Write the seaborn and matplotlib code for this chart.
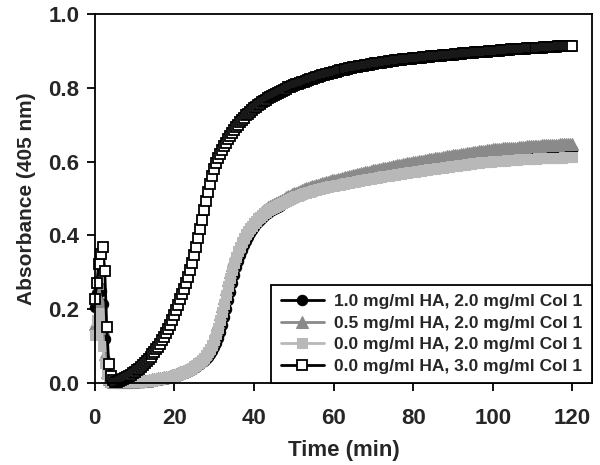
import numpy as np
import matplotlib
matplotlib.use("Agg")
import matplotlib.pyplot as plt
import seaborn as sns

# plate reader: one reading every 30 s from 0 to 120 min
time_min = np.arange(0, 120.5, 0.5)

# 1.0 mg/ml HA, 2.0 mg/ml Col 1
abs_ha10_col20 = [
    0.205, 0.245, 0.260, 0.250, 0.215, 0.120, 0.045, 0.015, 0.006, 0.003,
    0.002, 0.002, 0.002, 0.002, 0.002, 0.002, 0.002, 0.002, 0.003, 0.003,
    0.003, 0.003, 0.004, 0.004, 0.004, 0.005, 0.005, 0.006, 0.006, 0.007,
    0.008, 0.009, 0.010, 0.011, 0.012, 0.013, 0.014, 0.015, 0.016, 0.017,
    0.018, 0.020, 0.022, 0.024, 0.026, 0.028, 0.030, 0.033, 0.035, 0.038,
    0.040, 0.043, 0.048, 0.052, 0.056, 0.060, 0.065, 0.072, 0.079, 0.088,
    0.097, 0.109, 0.123, 0.139, 0.158, 0.179, 0.201, 0.225, 0.248, 0.271,
    0.293, 0.314, 0.332, 0.348, 0.362, 0.375, 0.386, 0.397, 0.407, 0.415,
    0.423, 0.430, 0.437, 0.442, 0.448, 0.453, 0.458, 0.462, 0.466, 0.469,
    0.472, 0.475, 0.478, 0.481, 0.484, 0.487, 0.490, 0.493, 0.496, 0.499,
    0.504, 0.506, 0.508, 0.510, 0.513, 0.515, 0.517, 0.518, 0.521, 0.523,
    0.524, 0.526, 0.527, 0.530, 0.531, 0.532, 0.535, 0.536, 0.537, 0.538,
    0.539, 0.540, 0.542, 0.543, 0.544, 0.546, 0.547, 0.548, 0.550, 0.551,
    0.552, 0.553, 0.554, 0.556, 0.557, 0.559, 0.560, 0.561, 0.563, 0.564,
    0.565, 0.566, 0.567, 0.568, 0.569, 0.571, 0.572, 0.573, 0.573, 0.574,
    0.576, 0.577, 0.578, 0.579, 0.579, 0.581, 0.582, 0.583, 0.584, 0.584,
    0.585, 0.586, 0.587, 0.588, 0.589, 0.590, 0.591, 0.592, 0.593, 0.593,
    0.595, 0.596, 0.597, 0.597, 0.598, 0.599, 0.600, 0.601, 0.602, 0.603,
    0.604, 0.605, 0.605, 0.606, 0.607, 0.609, 0.609, 0.610, 0.611, 0.611,
    0.612, 0.613, 0.614, 0.614, 0.615, 0.616, 0.617, 0.617, 0.618, 0.618,
    0.619, 0.619, 0.620, 0.620, 0.621, 0.621, 0.621, 0.622, 0.622, 0.622,
    0.623, 0.623, 0.624, 0.625, 0.625, 0.625, 0.626, 0.626, 0.626, 0.626,
    0.627, 0.627, 0.627, 0.628, 0.628, 0.628, 0.628, 0.629, 0.629, 0.629,
    0.630, 0.631, 0.631, 0.631, 0.631, 0.631, 0.632, 0.632, 0.632, 0.632,
    0.632,
]

# 0.5 mg/ml HA, 2.0 mg/ml Col 1
abs_ha05_col20 = [
    0.160, 0.230, 0.270, 0.220, 0.150, 0.080, 0.030, 0.012, 0.005, 0.003,
    0.002, 0.002, 0.002, 0.003, 0.003, 0.003, 0.003, 0.004, 0.004, 0.004,
    0.005, 0.005, 0.005, 0.006, 0.006, 0.007, 0.007, 0.008, 0.009, 0.010,
    0.011, 0.012, 0.013, 0.014, 0.015, 0.016, 0.017, 0.018, 0.020, 0.021,
    0.023, 0.025, 0.027, 0.029, 0.031, 0.034, 0.036, 0.039, 0.042, 0.046,
    0.050, 0.054, 0.058, 0.063, 0.068, 0.075, 0.083, 0.092, 0.103, 0.115,
    0.129, 0.146, 0.165, 0.186, 0.209, 0.232, 0.256, 0.279, 0.300, 0.320,
    0.338, 0.354, 0.368, 0.381, 0.392, 0.403, 0.412, 0.421, 0.429, 0.436,
    0.442, 0.448, 0.454, 0.459, 0.464, 0.468, 0.472, 0.476, 0.479, 0.482,
    0.485, 0.488, 0.491, 0.494, 0.497, 0.500, 0.503, 0.506, 0.508, 0.511,
    0.514, 0.516, 0.518, 0.521, 0.523, 0.525, 0.528, 0.529, 0.531, 0.533,
    0.535, 0.537, 0.538, 0.540, 0.542, 0.543, 0.545, 0.546, 0.548, 0.549,
    0.550, 0.551, 0.553, 0.554, 0.556, 0.557, 0.558, 0.559, 0.561, 0.562,
    0.563, 0.564, 0.566, 0.567, 0.569, 0.570, 0.571, 0.572, 0.573, 0.575,
    0.576, 0.577, 0.578, 0.579, 0.581, 0.582, 0.583, 0.584, 0.585, 0.586,
    0.588, 0.589, 0.590, 0.591, 0.592, 0.593, 0.594, 0.595, 0.596, 0.597,
    0.598, 0.599, 0.600, 0.601, 0.602, 0.603, 0.604, 0.605, 0.606, 0.606,
    0.608, 0.609, 0.610, 0.610, 0.611, 0.612, 0.613, 0.614, 0.615, 0.616,
    0.617, 0.618, 0.618, 0.619, 0.620, 0.621, 0.622, 0.623, 0.624, 0.624,
    0.625, 0.626, 0.627, 0.628, 0.629, 0.629, 0.630, 0.631, 0.632, 0.632,
    0.633, 0.633, 0.634, 0.634, 0.635, 0.636, 0.636, 0.637, 0.637, 0.637,
    0.638, 0.638, 0.638, 0.639, 0.639, 0.640, 0.640, 0.641, 0.641, 0.641,
    0.642, 0.642, 0.642, 0.643, 0.643, 0.644, 0.644, 0.645, 0.645, 0.645,
    0.645, 0.646, 0.646, 0.646, 0.647, 0.647, 0.647, 0.648, 0.648, 0.648,
    0.648,
]

# 0.0 mg/ml HA, 2.0 mg/ml Col 1
abs_ha00_col20 = [
    0.130, 0.170, 0.190, 0.160, 0.100, 0.055, 0.025, 0.010, 0.004, 0.003,
    0.002, 0.002, 0.002, 0.002, 0.002, 0.002, 0.002, 0.003, 0.003, 0.003,
    0.003, 0.004, 0.004, 0.004, 0.005, 0.005, 0.006, 0.006, 0.007, 0.008,
    0.009, 0.010, 0.011, 0.012, 0.013, 0.014, 0.015, 0.016, 0.017, 0.018,
    0.020, 0.022, 0.024, 0.026, 0.028, 0.031, 0.033, 0.036, 0.039, 0.042,
    0.046, 0.050, 0.054, 0.058, 0.063, 0.069, 0.076, 0.084, 0.093, 0.104,
    0.117, 0.132, 0.150, 0.170, 0.192, 0.215, 0.239, 0.262, 0.285, 0.306,
    0.325, 0.342, 0.357, 0.370, 0.382, 0.393, 0.403, 0.412, 0.420, 0.427,
    0.434, 0.440, 0.446, 0.451, 0.456, 0.460, 0.464, 0.468, 0.471, 0.474,
    0.477, 0.480, 0.483, 0.486, 0.489, 0.492, 0.494, 0.497, 0.499, 0.502,
    0.504, 0.506, 0.508, 0.510, 0.512, 0.514, 0.516, 0.517, 0.519, 0.521,
    0.522, 0.524, 0.525, 0.527, 0.528, 0.529, 0.531, 0.532, 0.533, 0.534,
    0.535, 0.536, 0.537, 0.538, 0.539, 0.540, 0.541, 0.542, 0.543, 0.544,
    0.545, 0.546, 0.547, 0.548, 0.549, 0.550, 0.551, 0.552, 0.553, 0.554,
    0.555, 0.556, 0.557, 0.558, 0.559, 0.560, 0.561, 0.562, 0.562, 0.563,
    0.564, 0.565, 0.566, 0.567, 0.567, 0.568, 0.569, 0.570, 0.571, 0.571,
    0.572, 0.573, 0.574, 0.575, 0.575, 0.576, 0.577, 0.578, 0.579, 0.579,
    0.580, 0.581, 0.582, 0.582, 0.583, 0.584, 0.585, 0.585, 0.586, 0.587,
    0.588, 0.589, 0.589, 0.590, 0.591, 0.592, 0.592, 0.593, 0.594, 0.594,
    0.595, 0.596, 0.597, 0.597, 0.598, 0.598, 0.599, 0.599, 0.600, 0.600,
    0.601, 0.601, 0.602, 0.602, 0.603, 0.603, 0.603, 0.604, 0.604, 0.604,
    0.605, 0.605, 0.605, 0.606, 0.606, 0.606, 0.607, 0.607, 0.607, 0.607,
    0.608, 0.608, 0.608, 0.609, 0.609, 0.609, 0.609, 0.610, 0.610, 0.610,
    0.610, 0.611, 0.611, 0.611, 0.611, 0.611, 0.612, 0.612, 0.612, 0.612,
    0.612,
]

# 0.0 mg/ml HA, 3.0 mg/ml Col 1
abs_ha00_col30 = [
    0.227, 0.270, 0.324, 0.350, 0.368, 0.304, 0.153, 0.053, 0.020, 0.008,
    0.004, 0.003, 0.005, 0.008, 0.011, 0.014, 0.017, 0.020, 0.023, 0.027,
    0.031, 0.035, 0.039, 0.044, 0.049, 0.054, 0.059, 0.065, 0.071, 0.078,
    0.085, 0.092, 0.099, 0.107, 0.116, 0.125, 0.135, 0.146, 0.158, 0.171,
    0.185, 0.199, 0.213, 0.227, 0.241, 0.256, 0.272, 0.288, 0.306, 0.325,
    0.346, 0.369, 0.393, 0.418, 0.443, 0.468, 0.493, 0.517, 0.540, 0.561,
    0.580, 0.596, 0.609, 0.620, 0.631, 0.641, 0.651, 0.661, 0.670, 0.678,
    0.686, 0.693, 0.700, 0.707, 0.713, 0.719, 0.725, 0.730, 0.735, 0.740,
    0.745, 0.749, 0.753, 0.757, 0.761, 0.764, 0.768, 0.771, 0.774, 0.777,
    0.780, 0.783, 0.786, 0.789, 0.792, 0.795, 0.798, 0.801, 0.803, 0.805,
    0.807, 0.809, 0.811, 0.813, 0.815, 0.817, 0.819, 0.821, 0.823, 0.825,
    0.827, 0.829, 0.830, 0.832, 0.834, 0.835, 0.837, 0.838, 0.840, 0.841,
    0.843, 0.844, 0.845, 0.847, 0.848, 0.849, 0.850, 0.852, 0.853, 0.854,
    0.855, 0.856, 0.857, 0.858, 0.859, 0.860, 0.861, 0.862, 0.863, 0.864,
    0.865, 0.866, 0.867, 0.868, 0.868, 0.869, 0.870, 0.871, 0.872, 0.872,
    0.873, 0.874, 0.875, 0.875, 0.876, 0.877, 0.877, 0.878, 0.878, 0.879,
    0.880, 0.880, 0.881, 0.881, 0.882, 0.883, 0.883, 0.884, 0.884, 0.885,
    0.885, 0.886, 0.886, 0.887, 0.887, 0.888, 0.888, 0.889, 0.889, 0.890,
    0.890, 0.891, 0.891, 0.892, 0.892, 0.893, 0.893, 0.894, 0.894, 0.895,
    0.895, 0.896, 0.896, 0.897, 0.897, 0.898, 0.898, 0.898, 0.899, 0.899,
    0.900, 0.900, 0.901, 0.901, 0.902, 0.902, 0.902, 0.903, 0.903, 0.904,
    0.904, 0.904, 0.905, 0.905, 0.906, 0.906, 0.906, 0.907, 0.907, 0.907,
    0.908, 0.908, 0.908, 0.909, 0.909, 0.909, 0.910, 0.910, 0.910, 0.911,
    0.911, 0.911, 0.911, 0.912, 0.912, 0.912, 0.912, 0.913, 0.913, 0.913,
    0.914,
]

labels = [
    "1.0 mg/ml HA, 2.0 mg/ml Col 1",
    "0.5 mg/ml HA, 2.0 mg/ml Col 1",
    "0.0 mg/ml HA, 2.0 mg/ml Col 1",
    "0.0 mg/ml HA, 3.0 mg/ml Col 1",
]

sns.set_style("ticks")
plt.rcParams["font.family"] = ["Liberation Sans", "DejaVu Sans"]
plt.rcParams["font.weight"] = "bold"

fig = plt.figure(figsize=(6.0, 4.65), dpi=100)
ax = fig.add_axes([0.158, 0.176, 0.829, 0.794])

series = [abs_ha10_col20, abs_ha05_col20, abs_ha00_col20, abs_ha00_col30]
styles = [
    dict(color="black", marker="o", markersize=7.5, markerfacecolor="black", markeredgecolor="black"),
    dict(color="#8a8a8a", marker="^", markersize=8.5, markerfacecolor="#8a8a8a", markeredgecolor="#8a8a8a"),
    dict(color="#b8b8b8", marker="s", markersize=7.5, markerfacecolor="#b8b8b8", markeredgecolor="#b8b8b8"),
    dict(color="black", marker="s", markersize=6.5, markerfacecolor="white", markeredgecolor="black", markeredgewidth=1.3),
]

for vals, lab, st in zip(series, labels, styles):
    sns.lineplot(x=time_min, y=vals, ax=ax, label=lab, linewidth=2,
                 estimator=None, sort=False, clip_on=False, **st)

ax.set_xlim(0, 125)
ax.set_ylim(0, 1.0)
ax.set_xticks([0, 20, 40, 60, 80, 100, 120])
ax.set_yticks([0.0, 0.2, 0.4, 0.6, 0.8, 1.0])
ax.set_yticklabels(["0.0", "0.2", "0.4", "0.6", "0.8", "1.0"])

for sp in ax.spines.values():
    sp.set_visible(True)
    sp.set_linewidth(1.3)
    sp.set_color("black")

ax.tick_params(axis="both", direction="out", length=6, width=1.3, color="black",
               labelsize=16, top=False, right=False)
ax.tick_params(axis="x", pad=12)
ax.tick_params(axis="y", pad=5)
for t in ax.get_xticklabels() + ax.get_yticklabels():
    t.set_fontweight("bold")

ax.set_xlabel("Time (min)", fontsize=16, fontweight="bold", labelpad=8)
ax.set_ylabel("Absorbance (405 nm)", fontsize=15, fontweight="bold", labelpad=9)

leg = ax.legend(loc="lower right", borderaxespad=0, frameon=True, fancybox=False,
                prop={"weight": "bold", "size": 12.5}, handlelength=2.5,
                handletextpad=0.6, labelspacing=0.36, borderpad=0.55)
leg.get_frame().set_edgecolor("black")
leg.get_frame().set_linewidth(1.3)
leg.get_frame().set_alpha(1)

fig.savefig("out.png", dpi=100)
